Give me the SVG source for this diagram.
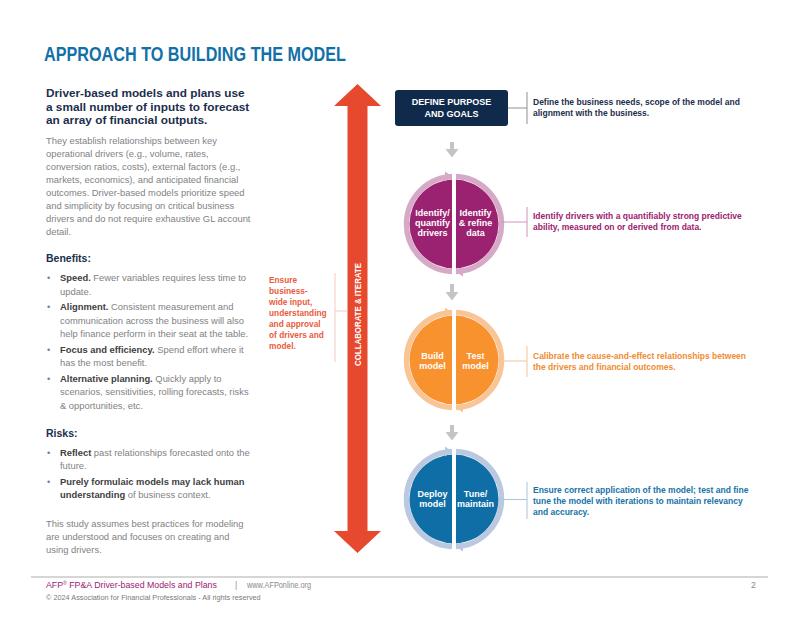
<svg xmlns="http://www.w3.org/2000/svg" width="800" height="618" viewBox="0 0 800 618">
<defs>
<style>
text{font-family:"Liberation Sans",Arial,sans-serif}
.title{font-size:20px;font-weight:bold;fill:#1270a8}
.lead{font-size:11.8px;font-weight:bold;fill:#1b2e4b}
.body{font-size:9.4px;fill:#808285}
.body b,.bold{font-weight:bold;fill:#414042}
.sub{font-size:10.5px;font-weight:bold;fill:#1b2e4b}
.ann{font-size:8.3px;font-weight:bold;fill:#e95b3c}
.desc{font-size:8.5px;font-weight:bold}
.node{font-size:9px;font-weight:bold;fill:#ffffff;text-anchor:middle}
.gap{fill:#ffffff}
.garrow{fill:#c3c4c7}
.foot{font-size:8.8px}
</style>
</defs>
<rect width="800" height="618" fill="#ffffff"/>

<text class="title" x="44" y="61" textLength="302" lengthAdjust="spacingAndGlyphs">APPROACH TO BUILDING THE MODEL</text>

<g id="left-text">
<text class="lead" x="46" y="97">Driver-based models and plans use</text>
<text class="lead" x="46" y="110.5">a small number of inputs to forecast</text>
<text class="lead" x="46" y="124">an array of financial outputs.</text>
<text class="body" x="46" y="143.5">They establish relationships between key</text>
<text class="body" x="46" y="156.5">operational drivers (e.g., volume, rates,</text>
<text class="body" x="46" y="169.5">conversion ratios, costs), external factors (e.g.,</text>
<text class="body" x="46" y="182.5">markets, economics), and anticipated financial</text>
<text class="body" x="46" y="195.5">outcomes. Driver-based models prioritize speed</text>
<text class="body" x="46" y="208.5">and simplicity by focusing on critical business</text>
<text class="body" x="46" y="221.5">drivers and do not require exhaustive GL account</text>
<text class="body" x="46" y="234.5">detail.</text>

<text class="sub" x="46" y="262">Benefits:</text>
<text class="body" x="47" y="281">•</text>
<text class="body" x="60" y="281"><tspan class="bold">Speed.</tspan> Fewer variables requires less time to</text>
<text class="body" x="60" y="294.5">update.</text>
<text class="body" x="47" y="310">•</text>
<text class="body" x="60" y="310"><tspan class="bold">Alignment.</tspan> Consistent measurement and</text>
<text class="body" x="60" y="323.5">communication across the business will also</text>
<text class="body" x="60" y="337">help finance perform in their seat at the table.</text>
<text class="body" x="47" y="352.5">•</text>
<text class="body" x="60" y="352.5"><tspan class="bold">Focus and efficiency.</tspan> Spend effort where it</text>
<text class="body" x="60" y="366">has the most benefit.</text>
<text class="body" x="47" y="381.5">•</text>
<text class="body" x="60" y="381.5"><tspan class="bold">Alternative planning.</tspan> Quickly apply to</text>
<text class="body" x="60" y="395">scenarios, sensitivities, rolling forecasts, risks</text>
<text class="body" x="60" y="408.5">&amp; opportunities, etc.</text>

<text class="sub" x="46" y="437">Risks:</text>
<text class="body" x="47" y="456">•</text>
<text class="body" x="60" y="456"><tspan class="bold">Reflect</tspan> past relationships forecasted onto the</text>
<text class="body" x="60" y="468.5">future.</text>
<text class="body" x="47" y="485">•</text>
<text class="body" x="60" y="485"><tspan class="bold">Purely formulaic models may lack human</tspan></text>
<text class="body" x="60" y="497.5"><tspan class="bold">understanding</tspan> of business context.</text>

<text class="body" x="46" y="527">This study assumes best practices for modeling</text>
<text class="body" x="46" y="540">are understood and focuses on creating and</text>
<text class="body" x="46" y="553">using drivers.</text>
</g>

<g id="collaborate-iterate">
<polygon fill="#e6492d" points="357.5,84 381,106 367.5,106 367.5,531 381,531 357.5,553 334,531 347.5,531 347.5,106 334,106"/>
<text x="0" y="0" transform="translate(360.7,314.5) rotate(-90)" text-anchor="middle" font-size="9" font-weight="bold" fill="#ffffff" textLength="103" lengthAdjust="spacingAndGlyphs">COLLABORATE &amp; ITERATE</text>
<g>
<text class="ann" x="269" y="282.5">Ensure</text>
<text class="ann" x="269" y="293.5">business-</text>
<text class="ann" x="269" y="304.5">wide input,</text>
<text class="ann" x="269" y="315.5">understanding</text>
<text class="ann" x="269" y="326.5">and approval</text>
<text class="ann" x="269" y="337.5">of drivers and</text>
<text class="ann" x="269" y="348.5">model.</text>
</g>
</g>

<g id="define-purpose">
<rect x="395" y="90" width="113" height="36" rx="3" fill="#102a4c"/>
<text class="node" x="451.5" y="105">DEFINE PURPOSE</text>
<text class="node" x="451.5" y="116.5">AND GOALS</text>
<text class="desc" x="533" y="104.5" fill="#1b2e4b">Define the business needs, scope of the model and</text>
<text class="desc" x="533" y="115.5" fill="#1b2e4b">alignment with the business.</text>
</g>

<g id="identify">
<circle cx="454" cy="224" r="47.5" fill="none" stroke="#d6a9c7" stroke-width="5.5"/>
<circle cx="454" cy="224" r="44.5" fill="#9b2270"/>
<rect class="gap" x="452" y="170" width="4" height="108"/>
<polygon fill="#d6a9c7" points="452.5,176.5 445,171.5 445,181.5"/>
<polygon fill="#d6a9c7" points="455.5,271.5 463,266.5 463,276.5"/>
<text class="node" x="432.5" y="215.5">Identify/</text>
<text class="node" x="432.5" y="225.5">quantify</text>
<text class="node" x="432.5" y="235.5">drivers</text>
<text class="node" x="475.5" y="215.5">Identify</text>
<text class="node" x="475.5" y="225.5">&amp; refine</text>
<text class="node" x="475.5" y="235.5">data</text>
<text class="desc" x="533" y="219" fill="#9b2270">Identify drivers with a quantifiably strong predictive</text>
<text class="desc" x="533" y="230" fill="#9b2270">ability, measured on or derived from data.</text>
</g>

<g id="build-test">
<circle cx="454" cy="360" r="47.5" fill="none" stroke="#f9c597" stroke-width="5.5"/>
<circle cx="454" cy="360" r="44.5" fill="#f7922f"/>
<rect class="gap" x="452" y="306" width="4" height="108"/>
<polygon fill="#f9c597" points="452.5,312.5 445,307.5 445,317.5"/>
<polygon fill="#f9c597" points="455.5,407.5 463,402.5 463,412.5"/>
<text class="node" x="432.5" y="359">Build</text>
<text class="node" x="432.5" y="369">model</text>
<text class="node" x="475.5" y="359">Test</text>
<text class="node" x="475.5" y="369">model</text>
<text class="desc" x="533" y="358.5" fill="#f08c2f">Calibrate the cause-and-effect relationships between</text>
<text class="desc" x="533" y="369.5" fill="#f08c2f">the drivers and financial outcomes.</text>
</g>

<g id="deploy-tune">
<circle cx="454" cy="499" r="47.5" fill="none" stroke="#bac9df" stroke-width="5.5"/>
<circle cx="454" cy="499" r="44.5" fill="#0f6ea5"/>
<rect class="gap" x="452" y="445" width="4" height="108"/>
<polygon fill="#bac9df" points="452.5,451.5 445,446.5 445,456.5"/>
<polygon fill="#bac9df" points="455.5,546.5 463,541.5 463,551.5"/>
<text class="node" x="432.5" y="497">Deploy</text>
<text class="node" x="432.5" y="506.5">model</text>
<text class="node" x="475.5" y="497">Tune/</text>
<text class="node" x="475.5" y="506.5">maintain</text>
<text class="desc" x="533" y="492.5" fill="#1573a8">Ensure correct application of the model; test and fine</text>
<text class="desc" x="533" y="503.5" fill="#1573a8">tune the model with iterations to maintain relevancy</text>
<text class="desc" x="533" y="514.5" fill="#1573a8">and accuracy.</text>
</g>

<g id="connectors" fill="none" stroke-width="1">
<path d="M335,273 V362 M335,311 H347" stroke="#f6cabf"/>
<path d="M508,108 H527 M527,92 V124" stroke="#8e9094"/>
<path d="M502,222 H527 M527,207 V237" stroke="#cc93b9"/>
<path d="M502,361 H527 M527,346 V377" stroke="#f8c295"/>
<path d="M502,499.5 H527 M527,482 V519" stroke="#aec2dc"/>
<g stroke="none">
<path class="garrow" d="M450,142 H454 V149 H458.5 L452,157.5 L445.5,149 H450 Z"/>
<path class="garrow" d="M450,284 H454 V292 H458.5 L452,300.5 L445.5,292 H450 Z"/>
<path class="garrow" d="M450,425 H454 V432 H458.5 L452,440.5 L445.5,432 H450 Z"/>
</g>
</g>

<g id="footer">
<line x1="31" y1="577" x2="768" y2="577" stroke="#c9c9c9" stroke-width="1.5"/>
<text class="foot" x="46" y="587.5" fill="#9b2270">AFP<tspan font-size="5" dy="-3">®</tspan><tspan dy="3"> FP&amp;A Driver-based Models and Plans</tspan></text>
<text class="foot" x="235" y="587.5" fill="#9a9a9a">|</text>
<text class="foot" x="247" y="587.5" fill="#8a8a8a" textLength="64" lengthAdjust="spacingAndGlyphs">www.AFPonline.org</text>
<text class="foot" x="751" y="587.5" fill="#8a8a8a">2</text>
<text x="46" y="599.5" font-size="7.3" fill="#7a7a7a">© 2024 Association for Financial Professionals - All rights reserved</text>
</g>
</svg>
